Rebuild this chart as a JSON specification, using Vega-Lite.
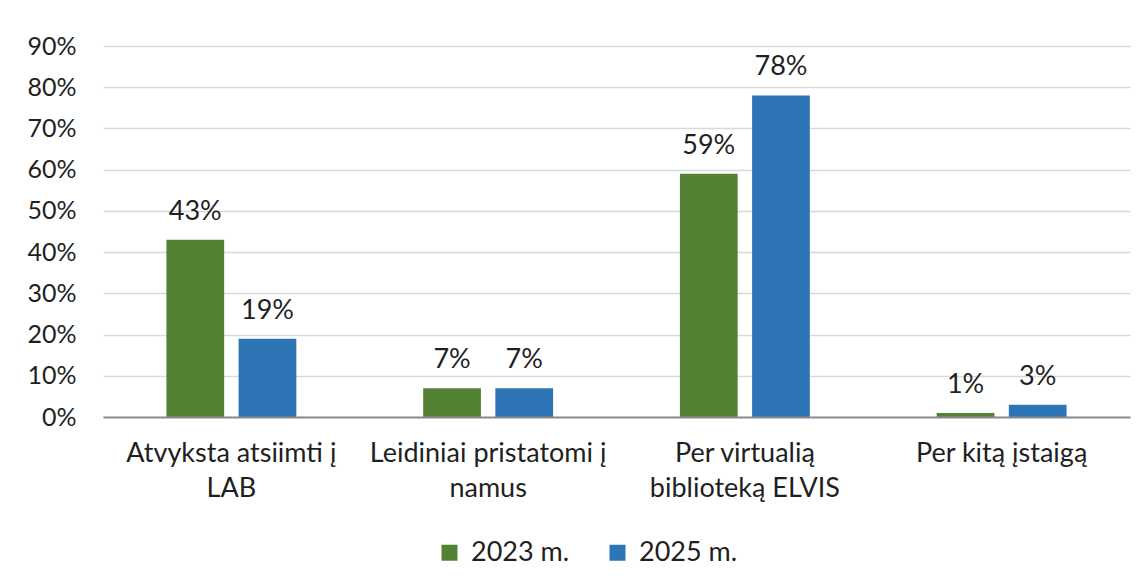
{
  "$schema": "https://vega.github.io/schema/vega-lite/v6.json",
  "width": 1027,
  "height": 371,
  "autosize": {"type": "none"},
  "padding": {"left": 103, "top": 46, "right": 15, "bottom": 168},
  "background": "white",
  "config": {
    "font": "Lato",
    "view": {"stroke": null},
    "axis": {"labelColor": "#1f1f1f", "labelFont": "Lato", "titleFont": "Lato"},
    "legend": {"labelFont": "Lato"}
  },
  "data": {
    "values": [
      {"category": "Atvyksta atsiimti į LAB", "series": "2023 m.", "value": 0.43},
      {"category": "Atvyksta atsiimti į LAB", "series": "2025 m.", "value": 0.19},
      {"category": "Leidiniai pristatomi į namus", "series": "2023 m.", "value": 0.07},
      {"category": "Leidiniai pristatomi į namus", "series": "2025 m.", "value": 0.07},
      {"category": "Per virtualią biblioteką ELVIS", "series": "2023 m.", "value": 0.59},
      {"category": "Per virtualią biblioteką ELVIS", "series": "2025 m.", "value": 0.78},
      {"category": "Per kitą įstaigą", "series": "2023 m.", "value": 0.01},
      {"category": "Per kitą įstaigą", "series": "2025 m.", "value": 0.03}
    ]
  },
  "encoding": {
    "x": {
      "field": "category",
      "type": "nominal",
      "sort": null,
      "title": null,
      "scale": {"paddingInner": 0.494, "paddingOuter": 0.247},
      "axis": {
        "labelAngle": 0,
        "ticks": false,
        "tickSize": 0,
        "labelFontSize": 27,
        "labelLineHeight": 35,
        "labelPadding": 23,
        "labelLimit": 400,
        "domainColor": "#8c8c8c",
        "domainWidth": 2,
        "zindex": 2,
        "labelExpr": "datum.label == 'Atvyksta atsiimti į LAB' ? ['Atvyksta atsiimti į', 'LAB'] : datum.label == 'Leidiniai pristatomi į namus' ? ['Leidiniai pristatomi į', 'namus'] : datum.label == 'Per virtualią biblioteką ELVIS' ? ['Per virtualią', 'biblioteką ELVIS'] : datum.label"
      }
    },
    "xOffset": {
      "field": "series",
      "type": "nominal",
      "scale": {"paddingInner": 0.2, "paddingOuter": 0}
    },
    "y": {
      "field": "value",
      "type": "quantitative",
      "title": null,
      "scale": {"domain": [0, 0.9], "nice": false},
      "axis": {
        "values": [0, 0.1, 0.2, 0.3, 0.4, 0.5, 0.6, 0.7, 0.8, 0.9],
        "format": ".0%",
        "domain": false,
        "ticks": false,
        "tickSize": 0,
        "labelFontSize": 25,
        "labelPadding": 27,
        "gridColor": "#d9d9d9",
        "gridWidth": 1.5
      }
    }
  },
  "layer": [
    {
      "mark": {"type": "bar"},
      "encoding": {
        "color": {
          "field": "series",
          "type": "nominal",
          "scale": {"domain": ["2023 m.", "2025 m."], "range": ["#548235", "#2E75B6"]},
          "legend": {
            "title": null,
            "orient": "none",
            "direction": "horizontal",
            "legendX": 333,
            "legendY": 493,
            "symbolType": "square",
            "symbolSize": 256,
            "symbolStrokeWidth": 0,
            "labelFontSize": 27,
            "labelColor": "#1f1f1f",
            "labelOffset": 8,
            "columnPadding": 34
          }
        }
      }
    },
    {
      "mark": {"type": "text", "baseline": "alphabetic", "dy": -20, "fontSize": 27, "color": "#1f1f1f"},
      "encoding": {"text": {"field": "value", "format": ".0%"}}
    }
  ]
}
